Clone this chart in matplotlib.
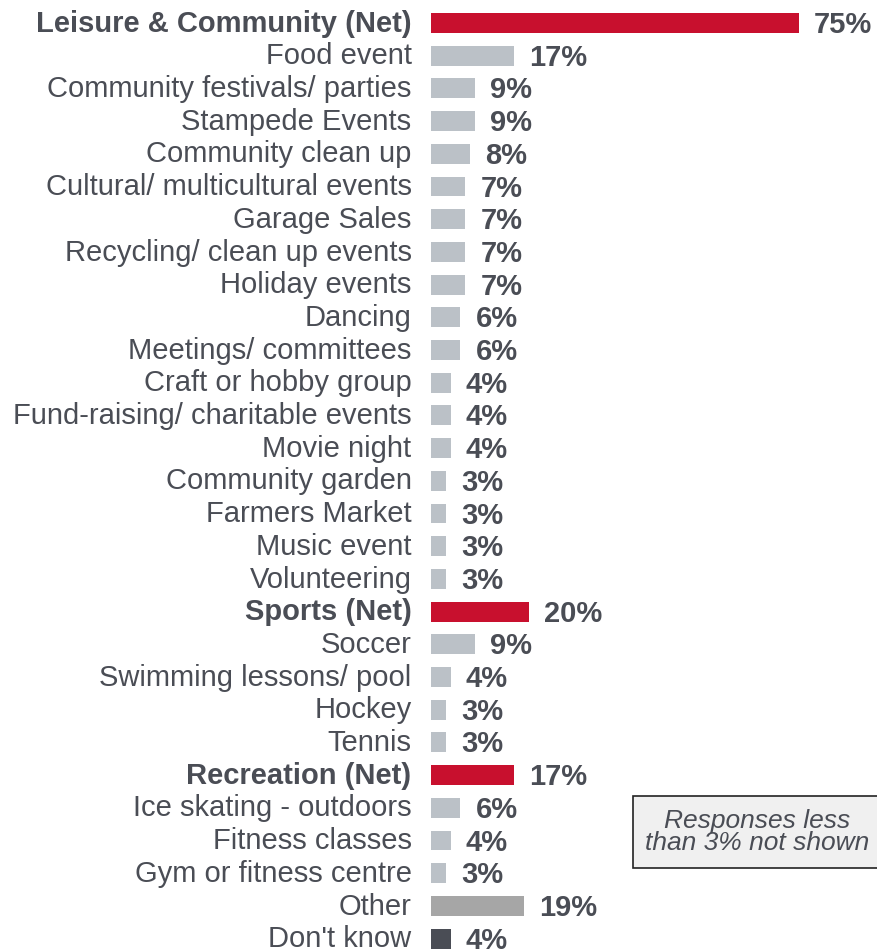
import matplotlib.pyplot as plt
from matplotlib.patches import Rectangle

plt.rcParams['font.family'] = ['Liberation Sans', 'DejaVu Sans']

categories = [
    "Leisure & Community (Net)", "Food event", "Community festivals/ parties",
    "Stampede Events", "Community clean up", "Cultural/ multicultural events",
    "Garage Sales", "Recycling/ clean up events", "Holiday events", "Dancing",
    "Meetings/ committees", "Craft or hobby group",
    "Fund-raising/ charitable events", "Movie night", "Community garden",
    "Farmers Market", "Music event", "Volunteering", "Sports (Net)", "Soccer",
    "Swimming lessons/ pool", "Hockey", "Tennis", "Recreation (Net)",
    "Ice skating - outdoors", "Fitness classes", "Gym or fitness centre",
    "Other", "Don't know",
]
values = [75, 17, 9, 9, 8, 7, 7, 7, 7, 6, 6, 4, 4, 4, 3, 3, 3, 3,
          20, 9, 4, 3, 3, 17, 6, 4, 3, 19, 4]
kinds = ["net"] + ["sub"] * 17 + ["net"] + ["sub"] * 4 + ["net"] + ["sub"] * 3 + ["other", "dk"]

COLORS = {"net": "#C8102E", "sub": "#BBC1C7", "other": "#A6A6A6", "dk": "#4A4D55"}
TXT = "#4A4D55"

W, H = 877, 952
fig = plt.figure(figsize=(W / 100, H / 100), dpi=100)
ax = fig.add_axes([431 / W, 0, 446 / W, 1])

step = 32.7
top = 23
n = len(categories)
ypos = list(range(n))
ax.barh(ypos, values, height=0.61, color=[COLORS[k] for k in kinds], left=0)
ax.set_xlim(0, 446 / 4.9)
ax.set_ylim((H - top) / step, -top / step)
ax.axis("off")

for i, (cat, v, k) in enumerate(zip(categories, values, kinds)):
    bold = k == "net"
    ax.annotate(cat, xy=(0, i), xytext=(-14, -0.5), textcoords="offset points",
                ha="right", va="center", fontsize=21, color=TXT,
                fontweight="bold" if bold else "normal", annotation_clip=False)
    ax.annotate(f"{v}%", xy=(v, i), xytext=(11, -1.5), textcoords="offset points",
                ha="left", va="center", fontsize=21, color=TXT,
                fontweight="bold", annotation_clip=False)

# note box
fig.patches.append(Rectangle((633 / W, 1 - 868 / H), 260 / W, 72 / H,
                             transform=fig.transFigure, facecolor="#F0F0F0",
                             edgecolor="#222222", linewidth=1.2))
fig.text(757 / W, 1 - 832 / H, "Responses less\nthan 3% not shown",
         ha="center", va="center", fontsize=19, style="italic",
         color=TXT, linespacing=0.9)

fig.savefig("out.png", dpi=100)
